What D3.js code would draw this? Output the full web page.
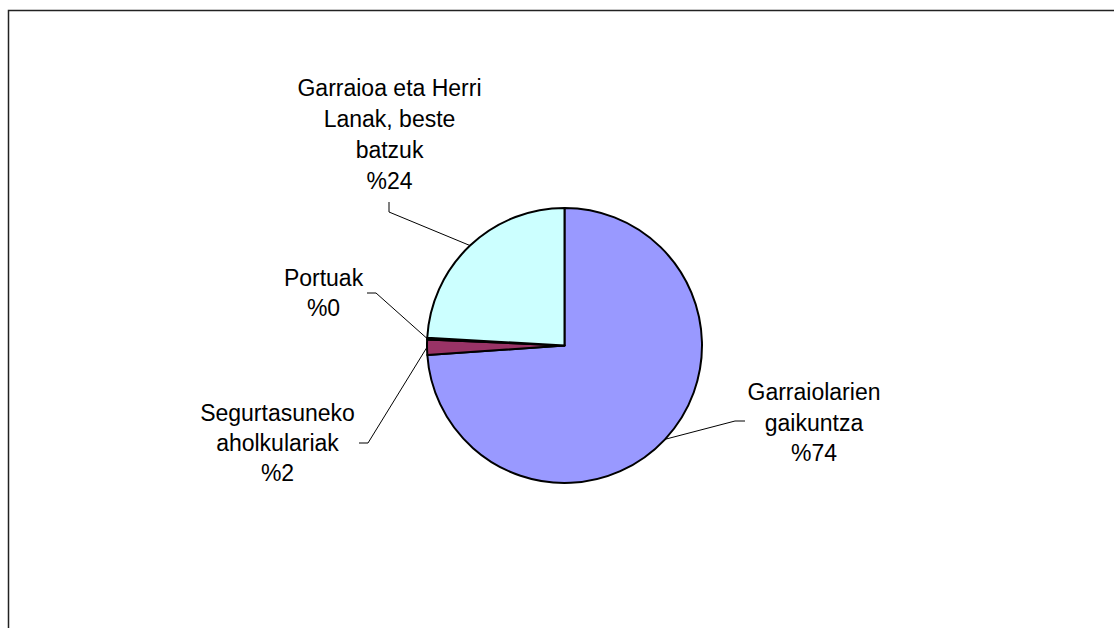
<!DOCTYPE html>
<html>
<head>
<meta charset="utf-8">
<script src="https://cdn.jsdelivr.net/npm/d3@7"></script>
<style>
  html, body { margin: 0; padding: 0; background: #fff; }
  svg { display: block; }
  text { font-family: "Liberation Sans", Arial, sans-serif; fill: #000; }
</style>
</head>
<body>
<svg id="chart" width="1114" height="628"></svg>
<script>
// Data (clockwise from 12 o'clock)
const categories = ["Garraiolarien gaikuntza", "Segurtasuneko aholkulariak", "Portuak", "Garraioa eta Herri Lanak, beste batzuk"];
const values = [73.9, 1.8, 0.2, 24.1];
const labelLines = [
  ["Garraiolarien", "gaikuntza", "%74"],
  ["Segurtasuneko", "aholkulariak", "%2"],
  ["Portuak", "%0"],
  ["Garraioa eta Herri", "Lanak, beste", "batzuk", "%24"]
];
const colors = ["#9999FF", "#993366", "#FFFFCC", "#CCFFFF"];

// Layout (label anchors relative to pie centre, leader line end)
const layout = [
  { tx: 249.5, ty: 46.5, lx: 170.5, ly: 75.5, side: "right", fs: 23, lh: 30.5 },
  { tx: -287, ty: 67.5, lx: -196.5, ly: 97.5, side: "left", fs: 23, lh: 30 },
  { tx: -241, ty: -67.5, lx: -188.5, ly: -52.5, side: "left", fs: 23, lh: 30 },
  { tx: -175, ty: -257.5, lx: -175.5, ly: -133.5, side: "top", fs: 23, lh: 31 }
];

const W = 1114, H = 628;
const svg = d3.select("#chart");
const cx = 564.5, cy = 345.5, R = 137.5;

// frame
svg.append("rect")
  .attr("x", 8.5).attr("y", 10.5)
  .attr("width", W + 20).attr("height", H + 20)
  .attr("fill", "none").attr("stroke", "#222").attr("stroke-width", 1.5);

const pie = d3.pie().sort(null).value(d => d)(values);
const arc = d3.arc().innerRadius(0).outerRadius(R);

const g = svg.append("g").attr("transform", `translate(${cx},${cy})`);

g.selectAll("path.slice").data(pie).join("path")
  .attr("class", "slice")
  .attr("d", arc)
  .attr("fill", (d, i) => colors[i])
  .attr("stroke", "#000").attr("stroke-width", 2)
  .attr("stroke-linejoin", "round");

// leader lines + labels
pie.forEach((d, i) => {
  const a = (d.startAngle + d.endAngle) / 2;
  const px = R * Math.sin(a), py = -R * Math.cos(a);
  const L = layout[i];
  let pts;
  if (L.side === "right") pts = [[px, py], [L.lx, L.ly], [L.lx + 10, L.ly]];
  else if (L.side === "left") pts = [[px, py], [L.lx, L.ly], [L.lx - 9, L.ly]];
  else pts = [[px, py], [L.lx, L.ly], [L.lx, L.ly - 10]];
  g.append("path")
    .attr("d", d3.line()(pts))
    .attr("fill", "none").attr("stroke", "#000").attr("stroke-width", 1);

  const t = g.append("text")
    .attr("text-anchor", "middle")
    .attr("font-size", L.fs);
  labelLines[i].forEach((s, k) => {
    t.append("tspan")
      .attr("x", L.tx)
      .attr("y", L.ty + k * L.lh)
      .attr("dy", "0.35em")
      .text(s);
  });
});
</script>
</body>
</html>
